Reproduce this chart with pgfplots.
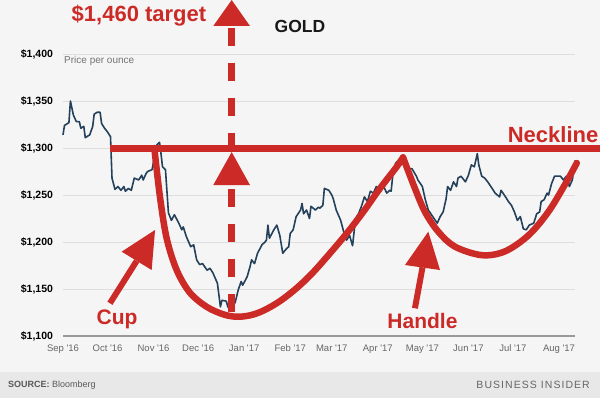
\documentclass[border=0pt]{standalone}
\usepackage{fontspec}
\setmainfont{Liberation Sans}
\newfontfamily\bifont[LetterSpace=10]{Liberation Sans}
\usepackage{pgfplots}
\usepackage{pgfplotstable}
\pgfplotsset{compat=1.18}
\definecolor{bired}{RGB}{204,42,38}
\definecolor{biline}{RGB}{36,64,90}
\definecolor{bibg}{RGB}{245,245,245}
\definecolor{bifoot}{RGB}{232,232,232}
\definecolor{bigrid}{RGB}{222,222,222}
\newcommand{\q}{\textquotesingle}
\pgfplotstableread{
d p
0 1314
1 1324
4 1327
5 1350
7 1335
9 1328
11 1328
12 1321
14 1323
15 1311
18 1314
20 1323
21 1336
23 1338
25 1338
26 1326
28 1321
30 1317
32 1312
33 1268
35 1256
37 1259
39 1255
41 1259
42 1254
44 1257
46 1255
48 1268
51 1266
53 1271
54 1266
56 1273
57 1275
60 1277
63 1303
65 1306
66 1294
67 1280
69 1277
71 1231
73 1223
75 1229
78 1220
80 1213
81 1216
83 1206
86 1195
88 1197
90 1181
92 1176
94 1177
97 1170
99 1172
101 1167
104 1156
106 1131
107 1138
110 1137
111 1131
113 1127
116 1136
118 1149
120 1158
121 1154
124 1163
126 1174
127 1181
129 1177
131 1188
134 1197
136 1200
137 1202
138 1218
139 1204
142 1213
144 1218
146 1207
148 1188
150 1192
152 1195
153 1209
155 1213
157 1227
160 1234
161 1241
162 1230
164 1234
166 1225
167 1238
170 1234
172 1237
173 1236
175 1239
176 1257
179 1255
181 1250
182 1246
184 1234
187 1223
189 1211
191 1202
193 1207
195 1196
197 1225
199 1230
201 1238
203 1248
205 1243
207 1254
209 1252
211 1259
213 1255
216 1259
218 1252
220 1255
221 1254
222 1270
224 1284
226 1287
228 1284
233 1278
235 1278
238 1270
239 1266
242 1259
244 1245
246 1234
249 1227
252 1220
254 1227
256 1232
258 1246
259 1259
261 1255
263 1264
265 1259
266 1268
268 1270
271 1264
273 1271
275 1282
277 1280
279 1294
280 1282
282 1270
284 1268
286 1264
289 1257
291 1252
294 1248
295 1255
298 1248
300 1243
302 1239
304 1232
306 1223
308 1227
310 1214
312 1213
314 1218
317 1220
319 1230
321 1232
322 1243
324 1245
326 1252
327 1250
329 1262
331 1270
335 1270
337 1266
339 1270
341 1259
343 1266
345 1287
}\gold
\begin{document}
\begin{tikzpicture}[x=1pt,y=1pt]
\useasboundingbox (0,0) rectangle (600,398);
\fill[bibg] (0,0) rectangle (600,398);
\fill[bifoot] (0,0) rectangle (600,26);
\node[anchor=west, text=black!65, font=\fontsize{9}{10}\selectfont, inner sep=0] at (8,13) {\textbf{SOURCE:} Bloomberg};
\node[anchor=east, text=black!60, font=\fontsize{10.5}{12}\selectfont, inner sep=0] at (590,13) {\bifont BUSINESS INSIDER};
\begin{axis}[
  at={(63pt,62pt)}, anchor=south west,
  scale only axis, width=512pt, height=282pt,
  xmin=0, xmax=344.8, ymin=1100, ymax=1400,
  clip=false,
  axis line style={draw=none},
  major tick length=0pt,
  ytick={1100,1150,1200,1250,1300,1350,1400},
  yticklabels={{\$1,100},{\$1,150},{\$1,200},{\$1,250},{\$1,300},{\$1,350},{\$1,400}},
  yticklabel style={font=\fontsize{10.5}{12}\selectfont\bfseries, text=black, anchor=east, xshift=-6.5pt},
  xtick={0,30,61,91,122,153,181,212,242,273,303,334},
  xticklabels={Sep \q16,Oct \q16,Nov \q16,Dec \q16,Jan \q17,Feb \q17,Mar \q17,Apr \q17,May \q17,Jun \q17,Jul \q17,Aug \q17},
  xticklabel style={font=\fontsize{9.5}{11}\selectfont, text=black!60, yshift=-5pt},
  ymajorgrids, grid style={bigrid, line width=0.9pt},
]
\draw[black!40, line width=1.2pt] (axis cs:0,1100) -- (axis cs:344.8,1100);
\addplot[biline, line width=1.6pt, line join=round] table[x=d, y=p] {\gold};
% neckline
\addplot[bired, line width=7pt] coordinates {(31.6,1299) (361.6,1299)};
% cup
\addplot[bired, line width=6.5pt, smooth, tension=0.55, line cap=round] coordinates {
(61.5,1300) (65.3,1248) (69.8,1204) (76.6,1170) (85.5,1146) (96.8,1131) (108,1123) (117,1120.5) (126,1122) (135,1127) (146,1137) (157.4,1151) (168,1167) (179.8,1188) (191,1209) (202.2,1232) (213,1256) (224.7,1280) (229,1290)};
% handle
\addplot[bired, line width=6.5pt, smooth, tension=0.55, line cap=round] coordinates {
(229,1290) (237,1257) (243.8,1232) (252.7,1211) (264,1195) (282,1186) (297.6,1190) (313.4,1207) (326.8,1232) (338,1261) (346,1284)};
% dashed target arrow
\draw[bired, line width=7pt, dash pattern=on 18pt off 17pt] (axis cs:113.6,1125.5) -- (axis cs:113.6,1258.5);
\draw[bired, line width=7pt, dash pattern=on 18pt off 17pt] (axis cs:113.6,1427.7) -- (axis cs:113.6,1298);
\fill[bired] (axis cs:113.6,1457.4) -- (axis cs:101.2,1429.8) -- (axis cs:125.9,1429.8) -- cycle;
\fill[bired] (axis cs:113.6,1295.7) -- (axis cs:101.2,1260.6) -- (axis cs:125.9,1260.6) -- cycle;
% cup arrow
\draw[bired, line width=6pt] (axis cs:31.6,1134.8) -- (axis cs:49.6,1179.8);
\fill[bired] (axis cs:62,1212.8) -- (axis cs:39.5,1189.7) -- (axis cs:59.7,1170.2) -- cycle;
% handle arrow
\draw[bired, line width=6pt] (axis cs:237,1129.5) -- (axis cs:242.1,1173);
\fill[bired] (axis cs:246,1211) -- (axis cs:230.3,1175.5) -- (axis cs:253.9,1170.2) -- cycle;
\end{axis}
\node[anchor=base, text=bired, font=\fontsize{22}{24}\selectfont\bfseries, inner sep=0] at (139,376) {\$1,460 target};
\node[anchor=base, text=black!90, font=\fontsize{17.5}{20}\selectfont\bfseries, inner sep=0] at (300,365) {GOLD};
\node[anchor=base west, text=black!55, font=\fontsize{10}{12}\selectfont, inner sep=0] at (64,334.5) {Price per ounce};
\node[anchor=base east, text=bired, font=\fontsize{22}{24}\selectfont\bfseries, inner sep=0] at (598.5,255) {Neckline};
\node[anchor=base, text=bired, font=\fontsize{21}{24}\selectfont\bfseries, inner sep=0] at (117,73) {Cup};
\node[anchor=base, text=bired, font=\fontsize{21}{24}\selectfont\bfseries, inner sep=0] at (422.5,69) {Handle};
\end{tikzpicture}
\end{document}
